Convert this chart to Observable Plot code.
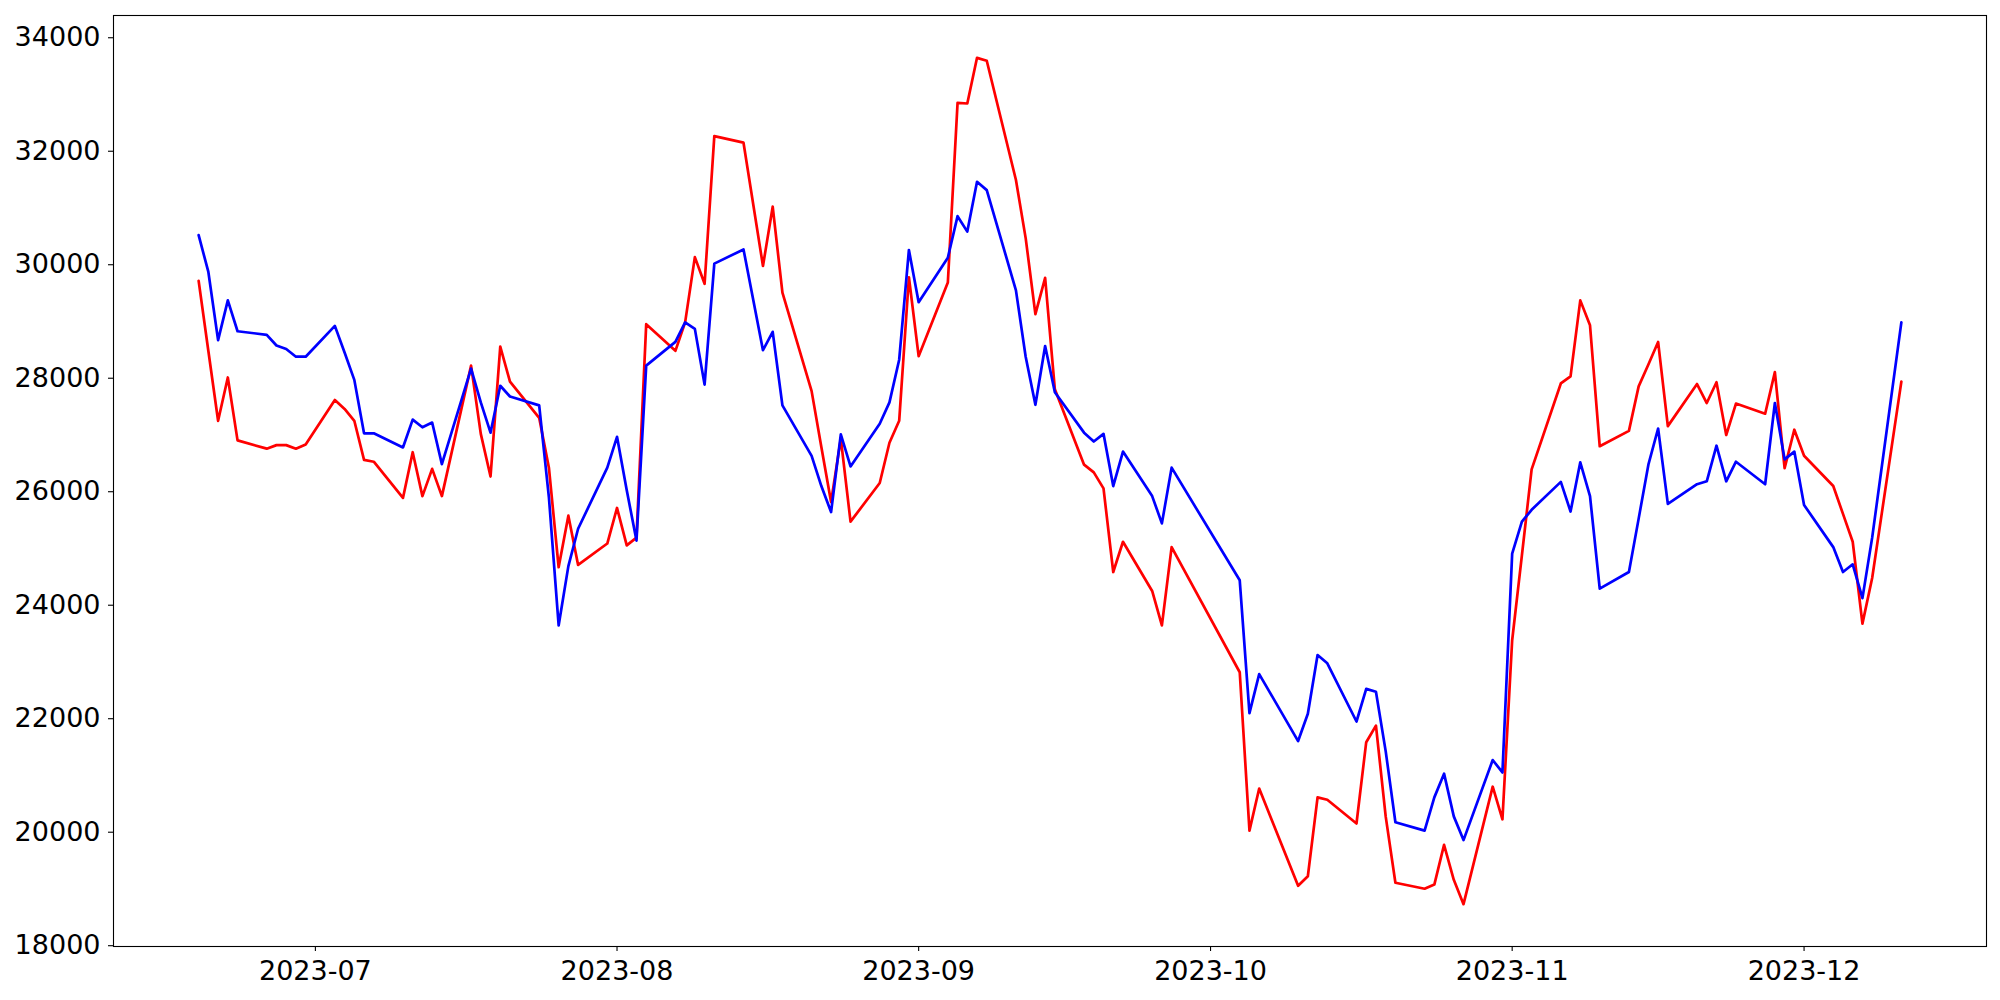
<!DOCTYPE html>
<html>
<head>
<meta charset="utf-8">
<script src="https://cdn.jsdelivr.net/npm/d3@7"></script>
<script src="https://cdn.jsdelivr.net/npm/@observablehq/plot@0.6"></script>
<style>
  html, body { margin: 0; padding: 0; background: #fff; }
  #chart svg { display: block; }
</style>
</head>
<body>
<div id="chart"></div>
<script>
const dates = [
  "2023-06-19","2023-06-20","2023-06-21","2023-06-22","2023-06-23","2023-06-26","2023-06-27","2023-06-28","2023-06-29","2023-06-30",
  "2023-07-03","2023-07-04","2023-07-05","2023-07-06","2023-07-07","2023-07-10","2023-07-11","2023-07-12","2023-07-13","2023-07-14",
  "2023-07-17","2023-07-18","2023-07-19","2023-07-20","2023-07-21","2023-07-24","2023-07-25","2023-07-26","2023-07-27","2023-07-28","2023-07-31",
  "2023-08-01","2023-08-02","2023-08-03","2023-08-04","2023-08-07","2023-08-08","2023-08-09","2023-08-10","2023-08-11","2023-08-14",
  "2023-08-16","2023-08-17","2023-08-18","2023-08-21","2023-08-22","2023-08-23","2023-08-24","2023-08-25","2023-08-28","2023-08-29","2023-08-30","2023-08-31",
  "2023-09-01","2023-09-04","2023-09-05","2023-09-06","2023-09-07","2023-09-08","2023-09-11","2023-09-12","2023-09-13","2023-09-14","2023-09-15",
  "2023-09-18","2023-09-19","2023-09-20","2023-09-21","2023-09-22","2023-09-25","2023-09-26","2023-09-27",
  "2023-10-04","2023-10-05","2023-10-06","2023-10-10","2023-10-11","2023-10-12","2023-10-13","2023-10-16","2023-10-17","2023-10-18","2023-10-19","2023-10-20",
  "2023-10-23","2023-10-24","2023-10-25","2023-10-26","2023-10-27","2023-10-30","2023-10-31",
  "2023-11-01","2023-11-02","2023-11-03","2023-11-06","2023-11-07","2023-11-08","2023-11-09","2023-11-10","2023-11-13","2023-11-14","2023-11-15",
  "2023-11-16","2023-11-17","2023-11-20","2023-11-21","2023-11-22","2023-11-23","2023-11-24","2023-11-27","2023-11-28","2023-11-29","2023-11-30",
  "2023-12-01","2023-12-04","2023-12-05","2023-12-06","2023-12-07","2023-12-08","2023-12-11"
];

const redValues = [
  29716, 28480, 27250, 28013, 26905, 26759, 26821, 26821, 26759, 26832,
  27616, 27459, 27250, 26560, 26529, 25891, 26696, 25923, 26403, 25923,
  28222, 27020, 26268, 28556, 27940, 27302, 26424, 24669, 25578, 24710, 25087,
  25714, 25055, 25191, 28953, 28483, 28985, 30134, 29664, 32266, 32151,
  29978, 31023, 29507, 27773, 26790, 25818, 26936, 25473, 26153, 26863, 27250, 29779,
  28389, 29685, 32852, 32841, 33646, 33594, 31493, 30469, 29131, 29769, 27804,
  26477, 26341, 26059, 24585, 25118, 24251, 23644, 25024,
  22819, 20028, 20770, 19056, 19224, 20614, 20572, 20154, 21586, 21878, 20279, 19109,
  19004, 19077, 19778, 19161, 18732, 20802, 20227,
  23383, 24878, 26393, 27908, 28034, 29372, 28933, 26801, 27072, 27856, 28243,
  28640, 27156, 27898, 27563, 27929, 26999, 27553, 27375, 28107, 26414, 27093,
  26633, 26100, 25609, 25118, 23676, 24480, 27940
];

const blueValues = [
  30521, 29873, 28671, 29372, 28828, 28765, 28577, 28515, 28379, 28379,
  28922, 28452, 27971, 27030, 27030, 26780, 27271, 27135, 27219, 26487,
  28170, 27574, 27041, 27867, 27678, 27522, 25902, 23644, 24689, 25348, 26424,
  26968, 26027, 25139, 28222, 28640, 28985, 28870, 27887, 30019, 30270,
  28494, 28818, 27522, 26633, 26100, 25641, 27010, 26445, 27198, 27574, 28326, 30260,
  29340, 30124, 30856, 30584, 31462, 31315, 29549, 28379, 27532, 28567, 27752,
  27041, 26884, 27020, 26100, 26707, 25923, 25442, 26424,
  24439, 22098, 22787, 21606, 22087, 23122, 22976, 21951, 22526, 22474, 21429, 20175,
  20028, 20614, 21032, 20279, 19861, 21272, 21053,
  24909, 25473, 25682, 26174, 25651, 26518, 25923, 24292, 24585, 25526, 26477,
  27114, 25787, 26132, 26184, 26811, 26184, 26529, 26132, 27563, 26571, 26707,
  25766, 25024, 24585, 24721, 24125, 25191, 28985
];

const xTickLabels = ["2023-07-01","2023-08-01","2023-09-01","2023-10-01","2023-11-01","2023-12-01"];
const yTicks = [18000, 20000, 22000, 24000, 26000, 28000, 30000, 32000, 34000];
const xDomain = ["2023-06-10T06:00:00Z", "2023-12-19T18:00:00Z"];
const yDomain = [17986, 34392];

const parse = s => new Date(s.length === 10 ? s + "T00:00:00Z" : s);
const rows = dates.map((d, i) => ({date: parse(d), red: redValues[i], blue: blueValues[i]}));

const chart = Plot.plot({
  width: 2000,
  height: 1000,
  marginLeft: 113,
  marginRight: 14,
  marginTop: 15,
  marginBottom: 54,
  style: {fontFamily: "'DejaVu Sans', sans-serif", fontSize: "27px", background: "#fff", color: "#000", overflow: "visible"},
  x: {type: "utc", domain: xDomain.map(parse)},
  y: {domain: yDomain},
  marks: [
    Plot.axisX({ticks: xTickLabels.map(parse), tickFormat: d3.utcFormat("%Y-%m"), tickSize: 5, tickPadding: 9, label: null, strokeWidth: 1.1}),
    Plot.axisY({ticks: yTicks, tickFormat: d => String(d), tickSize: 5, tickPadding: 8, label: null, strokeWidth: 1.1}),
    Plot.lineY(rows, {x: "date", y: "red", stroke: "#ff0000", strokeWidth: 2.7, curve: "linear"}),
    Plot.lineY(rows, {x: "date", y: "blue", stroke: "#0000ff", strokeWidth: 2.7, curve: "linear"}),
    Plot.frame({stroke: "#000", strokeWidth: 1.1})
  ]
});
document.getElementById("chart").appendChild(chart);
</script>
</body>
</html>
